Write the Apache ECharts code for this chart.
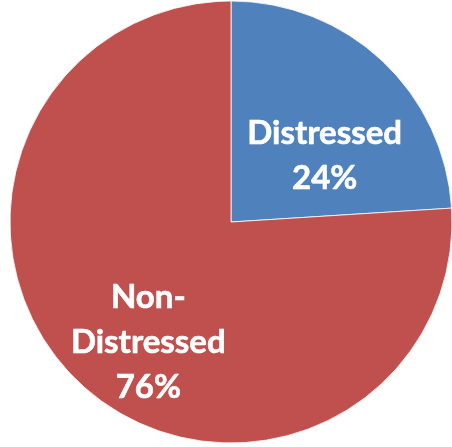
<!DOCTYPE html>
<html>
<head>
<meta charset="utf-8">
<style>
  html, body { margin: 0; padding: 0; background: #ffffff; }
  #chart { width: 452px; height: 447px; }
</style>
<script src="https://cdn.jsdelivr.net/npm/echarts@6/dist/echarts.min.js"></script>
</head>
<body>
<div id="chart"></div>
<script>
// Share of borrowers by status
var categories = ['Distressed', 'Non-Distressed'];
var labelNames = ['Distressed', 'Non-\nDistressed'];
var shares = [24, 76];
var colors = ['#4F81BD', '#C0504D'];

// label nudges from the default inside position
var labelShift = [[16, 17], [-5, 38]];

var chart = echarts.init(document.getElementById('chart'), null, { renderer: 'canvas' });

chart.setOption({
  animation: false,
  series: [{
    type: 'pie',
    center: [231, 222],
    radius: [0, 221],
    startAngle: 90,
    clockwise: true,
    percentPrecision: 0,
    emphasis: { disabled: true },
    itemStyle: { borderColor: 'rgba(255,255,255,0.8)', borderWidth: 1 },
    label: {
      show: true,
      position: 'inside',
      color: '#ffffff',
      fontFamily: 'Lato',
      fontWeight: 'bold',
      fontSize: 33,
      lineHeight: 45,
      align: 'center',
      textBorderColor: '#ffffff',
      textBorderWidth: 0.6,
      formatter: function (p) {
        return labelNames[p.dataIndex] + '\n' + p.percent + '%';
      }
    },
    labelLine: { show: false },
    labelLayout: function (p) {
      return { dx: labelShift[p.dataIndex][0], dy: labelShift[p.dataIndex][1] };
    },
    data: categories.map(function (c, i) {
      return { name: c, value: shares[i], itemStyle: { color: colors[i] } };
    })
  }]
});
</script>
</body>
</html>
